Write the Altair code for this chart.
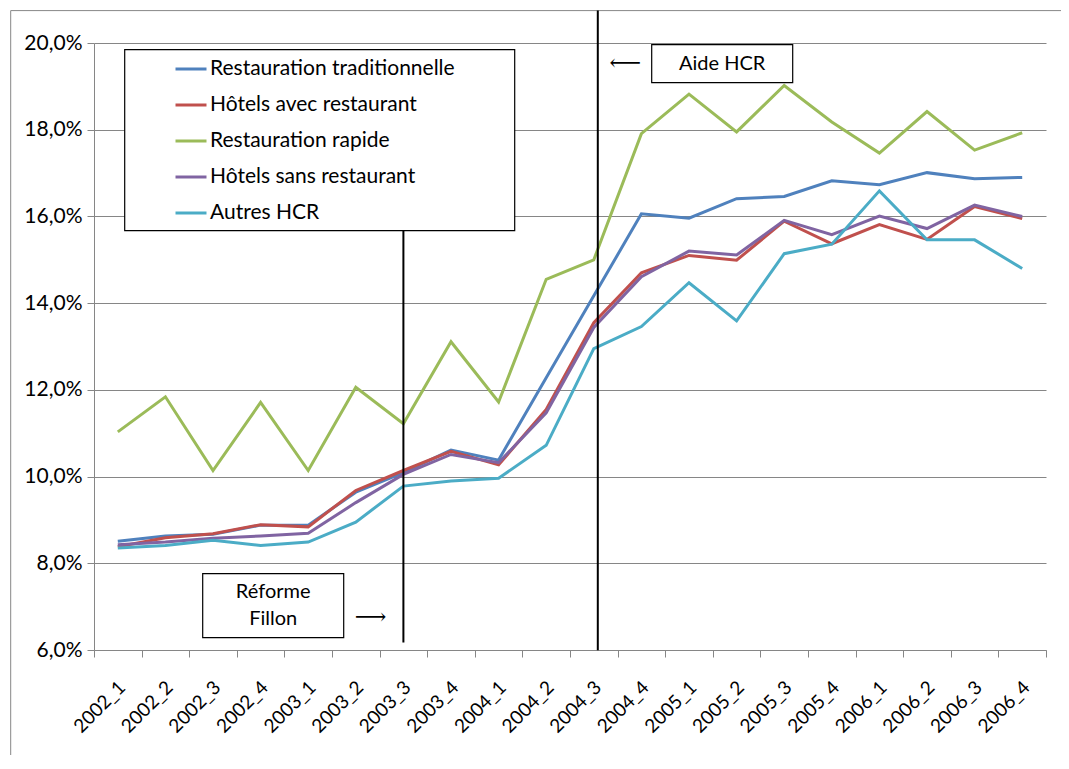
import altair as alt
import pandas as pd

quarters = ["2002_1", "2002_2", "2002_3", "2002_4", "2003_1", "2003_2", "2003_3", "2003_4",
            "2004_1", "2004_2", "2004_3", "2004_4", "2005_1", "2005_2", "2005_3", "2005_4",
            "2006_1", "2006_2", "2006_3", "2006_4"]

series_names = ["Restauration traditionnelle", "Hôtels avec restaurant", "Restauration rapide",
                "Hôtels sans restaurant", "Autres HCR"]
colors = ["#4F81BD", "#C0504D", "#9BBB59", "#8064A2", "#4BACC6"]

trad = [8.51, 8.63, 8.67, 8.88, 8.88, 9.64, 10.09, 10.61, 10.38, 12.28,
        14.17, 16.06, 15.96, 16.41, 16.46, 16.82, 16.73, 17.01, 16.87, 16.90]
avec = [8.38, 8.59, 8.68, 8.89, 8.84, 9.68, 10.14, 10.58, 10.27, 11.55,
        13.55, 14.70, 15.10, 14.99, 15.89, 15.37, 15.81, 15.47, 16.23, 15.95]
rapide = [11.03, 11.84, 10.14, 11.71, 10.14, 12.06, 11.22, 13.11, 11.72, 14.55,
          15.00, 17.91, 18.82, 17.95, 19.02, 18.18, 17.46, 18.42, 17.53, 17.93]
sans = [8.43, 8.49, 8.58, 8.63, 8.69, 9.40, 10.05, 10.51, 10.32, 11.47,
        13.44, 14.61, 15.20, 15.11, 15.91, 15.58, 16.01, 15.72, 16.26, 16.00]
autres = [8.35, 8.41, 8.53, 8.41, 8.49, 8.95, 9.78, 9.90, 9.96, 10.72,
          12.95, 13.46, 14.47, 13.59, 15.14, 15.36, 16.59, 15.46, 15.46, 14.80]

y_ticks = [6, 8, 10, 12, 14, 16, 18, 20]

rows = []
for name, vals in zip(series_names, [trad, avec, rapide, sans, autres]):
    for q, v in zip(quarters, vals):
        rows.append({"quarter": q, "value": v, "series": name})
df = pd.DataFrame(rows)

FONT = "Lato"
GRID = "#868686"

x_scale = alt.Scale(type="band", paddingInner=0, paddingOuter=0, domain=quarters)

lines = alt.Chart(df).mark_line(strokeWidth=3).encode(
    x=alt.X("quarter:O", sort=quarters, scale=x_scale,
            axis=alt.Axis(title=None, labelAngle=315, labelAlign="right", labelBaseline="middle",
                          tickBand="extent", grid=False, tickSize=7, tickColor=GRID,
                          domainColor=GRID, labelFontSize=19, labelPadding=27, labelOffset=4,
                          labelColor="black", labelFont=FONT)),
    y=alt.Y("value:Q", scale=alt.Scale(domain=[6, 20], nice=False, zero=False),
            axis=alt.Axis(title=None, values=y_ticks, grid=True, gridColor=GRID,
                          domainColor=GRID, tickColor=GRID, tickSize=7,
                          labelFontSize=21, labelPadding=5, labelColor="black", labelFont=FONT,
                          labelExpr="replace(format(datum.value, '.1f'), '.', ',') + '%'")),
    color=alt.Color("series:N", sort=series_names,
                    scale=alt.Scale(domain=series_names, range=colors),
                    legend=alt.Legend(title=None, orient="none", legendX=80, legendY=9,
                                      symbolType="stroke", symbolSize=961, symbolStrokeWidth=3,
                                      labelFontSize=21, labelFont=FONT, labelColor="black",
                                      labelLimit=400, labelOffset=2, rowPadding=9, padding=0)),
    detail="series:N",
)

events = pd.DataFrame({"quarter": ["2003_3", "2004_3"], "label": ["Réforme Fillon", "Aide HCR"]})
one = pd.DataFrame({"a": [0]})

fillon_rule = alt.Chart(events.iloc[[0]]).mark_rule(color="black", strokeWidth=2).encode(
    x=alt.X("quarter:O", sort=quarters, scale=x_scale),
    y=alt.value(187.6), y2=alt.value(599.6))
aide_rule = alt.Chart(events.iloc[[1]]).mark_rule(color="black", strokeWidth=2, xOffset=4).encode(
    x=alt.X("quarter:O", sort=quarters, scale=x_scale),
    y=alt.value(-32.4), y2=alt.value(607.3))

legend_box = alt.Chart(one).mark_rect(fill="white", stroke="black", strokeWidth=1.2).encode(
    x=alt.value(30.7), x2=alt.value(420.7), y=alt.value(6.6), y2=alt.value(187.6))

fillon_box = alt.Chart(one).mark_rect(fill="white", stroke="black", strokeWidth=1.2).encode(
    x=alt.value(108.7), x2=alt.value(249.7), y=alt.value(530.6), y2=alt.value(594.6))
fillon_t1 = alt.Chart(one).mark_text(font=FONT, fontSize=20, color="black").encode(
    x=alt.value(179.2), y=alt.value(548.6), text=alt.value("Réforme"))
fillon_t2 = alt.Chart(one).mark_text(font=FONT, fontSize=20, color="black").encode(
    x=alt.value(179.2), y=alt.value(575.6), text=alt.value("Fillon"))
fillon_arrow = alt.Chart(one).mark_text(font="DejaVu Serif", fontSize=22, color="black").encode(
    x=alt.value(276.5), y=alt.value(573.6), text=alt.value("⟶"))

aide_box = alt.Chart(one).mark_rect(fill="white", stroke="black", strokeWidth=1.2).encode(
    x=alt.value(557.7), x2=alt.value(698.7), y=alt.value(1.6), y2=alt.value(39.6))
aide_t = alt.Chart(one).mark_text(font=FONT, fontSize=20, color="black").encode(
    x=alt.value(628.2), y=alt.value(20.6), text=alt.value("Aide HCR"))
aide_arrow = alt.Chart(one).mark_text(font="DejaVu Serif", fontSize=22, color="black").encode(
    x=alt.value(531.2), y=alt.value(19.6), text=alt.value("⟵"))

border_top = alt.Chart(one).mark_rule(color="#878787", strokeWidth=1).encode(
    x=alt.value(-83.3), x2=alt.value(967), y=alt.value(-32.4))
border_left = alt.Chart(one).mark_rule(color="#878787", strokeWidth=1).encode(
    x=alt.value(-83.3), y=alt.value(-32.4), y2=alt.value(712))

chart = alt.layer(
    border_top, border_left, lines, fillon_rule, aide_rule, legend_box,
    fillon_box, fillon_t1, fillon_t2, fillon_arrow, aide_box, aide_t, aide_arrow
).properties(
    width=952, height=607,
    padding={"left": 86, "top": 35, "right": 15, "bottom": 105},
    autosize=alt.AutoSizeParams(type="none"),
    background="white",
).configure_view(stroke=None)

chart.save("out.html", embed_options={"renderer": "svg", "actions": False})
